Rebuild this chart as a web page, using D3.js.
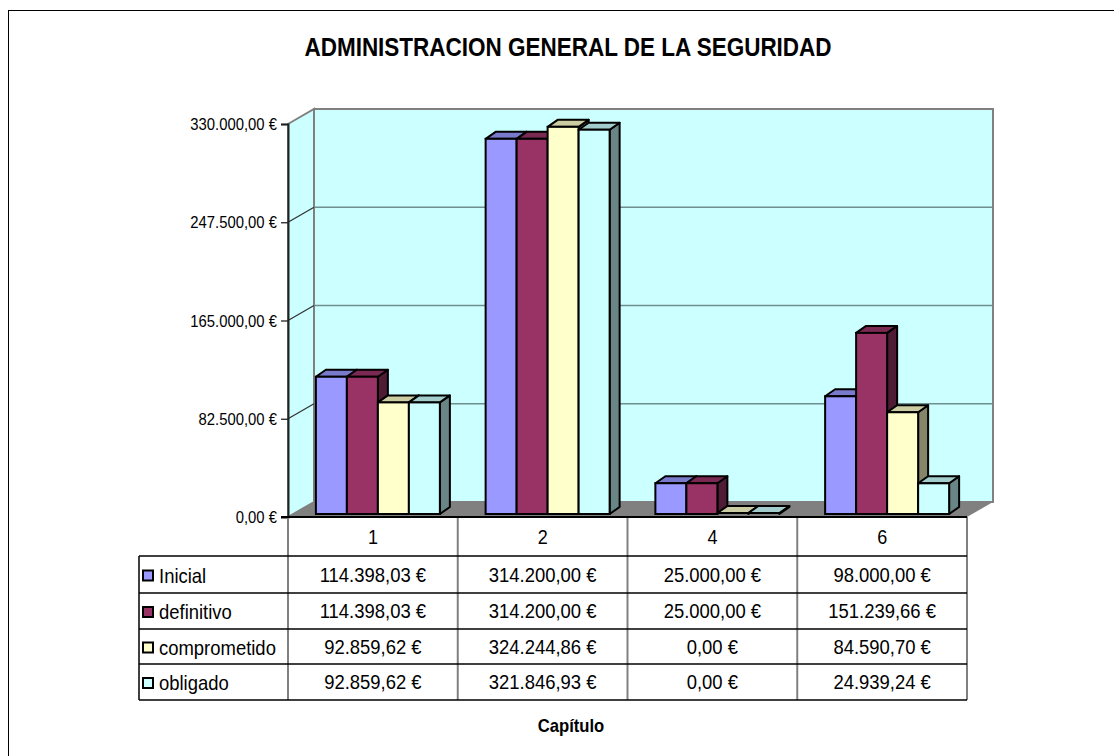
<!DOCTYPE html>
<html>
<head>
<meta charset="utf-8">
<script src="https://cdn.jsdelivr.net/npm/d3@7"></script>
<style>
  body { margin: 0; background: #fff; }
  svg text { font-family: "Liberation Sans", Arial, sans-serif; fill: #000; }
</style>
</head>
<body>
<div id="chart"></div>
<script>
// data
var categories = ["1", "2", "4", "6"]
var seriesNames = ["Inicial", "definitivo", "comprometido", "obligado"]
var inicial = [114398.03, 314200.00, 25000.00, 98000.00]
var definitivo = [114398.03, 314200.00, 25000.00, 151239.66]
var comprometido = [92859.62, 324244.86, 0.00, 84590.70]
var obligado = [92859.62, 321846.93, 0.00, 24939.24]
var yTicks = [0, 82500, 165000, 247500, 330000]
var seriesColors = ["#9999FF", "#993366", "#FFFFCC", "#CCFFFF"]

var values = [inicial, definitivo, comprometido, obligado]

var W = 1114, H = 756
var SX = 0.9   // the original fonts are a bit narrow
var svg = d3.select("#chart").append("svg")
  .attr("width", W).attr("height", H)

// text drawn slightly condensed, like the source
function label(parent, tx, ty, str, size, anchor, bold){
  return parent.append("text")
    .attr("transform", "translate(" + tx + "," + ty + ") scale(" + SX + ",1)")
    .attr("text-anchor", anchor || "start")
    .style("font-size", size + "px")
    .style("font-weight", bold ? "bold" : "normal")
    .text(str)
}

// outer frame (only top and left edges fall inside the picture)
svg.append("rect")
  .attr("x", 8.5).attr("y", 10.5).attr("width", 1300).attr("height", 900)
  .attr("fill", "#fff").attr("stroke", "#000").attr("stroke-width", 1)

var loc = d3.formatLocale({decimal: ",", thousands: ".", grouping: [3], currency: ["", " €"]})
var fmt = function(v){ return loc.format(",.2f")(v) + " €" }

var x0 = 288, x1 = 967
var DX = 26, DY = -15          // depth of the 3d box
var y = d3.scaleLinear().domain([0, 330000]).range([517, 124])
var x = d3.scaleBand().domain(categories).range([x0, x1])
var xs = d3.scaleBand().domain(seriesNames).range([0, 124])

// title
label(svg, 568, 56, "ADMINISTRACION GENERAL DE LA SEGURIDAD", 25, "middle", true)

var yT = y(330000), yB = y(0)

// walls and floor
var wall = svg.append("g")
wall.append("polygon")
  .attr("points", [[x0 + DX, yT + DY], [x1 + DX, yT + DY], [x1 + DX, yB + DY], [x0 + DX, yB + DY]].join(" "))
  .attr("fill", "#CCFFFF").attr("stroke", "#808080").attr("stroke-width", 2)
wall.append("polygon")
  .attr("points", [[x0, yT], [x0 + DX, yT + DY], [x0 + DX, yB + DY], [x0, yB]].join(" "))
  .attr("fill", "#CCFFFF").attr("stroke", "#808080").attr("stroke-width", 2)
wall.append("polygon")
  .attr("points", [[x0, yB], [x1, yB], [x1 + DX, yB + DY], [x0 + DX, yB + DY]].join(" "))
  .attr("fill", "#808080").attr("stroke", "none")

// gridlines
yTicks.forEach(function(t){
  if (t == 0 || t == 330000) return
  wall.append("line")
    .attr("x1", x0 + DX).attr("x2", x1 + DX)
    .attr("y1", y(t) + DY).attr("y2", y(t) + DY)
    .attr("stroke", "#6f8f8f").attr("stroke-width", 1.3)
  wall.append("line")
    .attr("x1", x0).attr("x2", x0 + DX)
    .attr("y1", y(t)).attr("y2", y(t) + DY)
    .attr("stroke", "#333").attr("stroke-width", 1.3)
})

// y axis
var axis = svg.append("g").attr("transform", "translate(" + x0 + ",0)")
  .call(d3.axisLeft(y).tickValues(yTicks).tickSize(7).tickFormat(""))
axis.select(".domain").attr("stroke", "#222").attr("stroke-width", 2)
axis.selectAll(".tick line").attr("stroke", "#222").attr("stroke-width", 1.3)
yTicks.forEach(function(t){
  label(svg, x0 - 11, y(t) + 6, fmt(t), 16.5, "end")
})

// bars
var fx = 5, fy = -4      // bar front offset into the box
var bx = 10, by = -7     // bar depth
var bw = xs.bandwidth()
var pad = (x.bandwidth() - 124) / 2
function shade(c, k){ var h = d3.rgb(c); return d3.rgb(h.r * k, h.g * k, h.b * k) }

categories.forEach(function(cat, ci){
  var g = svg.append("g").attr("class", "cat_" + cat)
  seriesNames.forEach(function(s, si){
    var v = values[si][ci]
    var left = x(cat) + pad + xs(s) + fx
    var right = left + bw
    var top = y(v) + fy
    var bot = y(0) + fy + 1
    var col = seriesColors[si]
    g.append("polygon")
      .attr("points", [[right, bot], [right + bx, bot + by], [right + bx, top + by], [right, top]].join(" "))
      .attr("fill", shade(col, 0.52)).attr("stroke", "#000").attr("stroke-width", 2).attr("stroke-linejoin", "round")
    g.append("polygon")
      .attr("points", [[left, top], [left + bx, top + by], [right + bx, top + by], [right, top]].join(" "))
      .attr("fill", shade(col, 0.8)).attr("stroke", "#000").attr("stroke-width", 2).attr("stroke-linejoin", "round")
    if (v > 0) {
      g.append("rect")
        .attr("x", left).attr("y", top).attr("width", bw).attr("height", bot - top)
        .attr("fill", col).attr("stroke", "#000").attr("stroke-width", 2)
    }
  })
})

// data table
var tLeft = 139
var rowY = [517, 556, 593, 629, 664, 700]
var table = svg.append("g")
var colEdges = categories.map(function(c){ return x(c) }).concat([x1])
colEdges.forEach(function(cx){
  table.append("line").attr("x1", cx).attr("x2", cx).attr("y1", 517).attr("y2", rowY[5])
    .attr("stroke", "#808080").attr("stroke-width", 2)
})
table.append("line").attr("x1", tLeft).attr("x2", tLeft).attr("y1", rowY[1]).attr("y2", rowY[5])
  .attr("stroke", "#000").attr("stroke-width", 1.5)
rowY.forEach(function(ry, i){
  table.append("line").attr("x1", i == 0 ? 281 : tLeft).attr("x2", x1).attr("y1", ry).attr("y2", ry)
    .attr("stroke", "#000").attr("stroke-width", i == 0 ? 2 : 1.3)
})

categories.forEach(function(cat){
  label(table, x(cat) + x.bandwidth() / 2, 544, cat, 20, "middle")
})
seriesNames.forEach(function(s, si){
  var cy = (rowY[si + 1] + rowY[si + 2]) / 2
  table.append("rect")
    .attr("x", 143).attr("y", cy - 4).attr("width", 10).attr("height", 10)
    .attr("fill", seriesColors[si]).attr("stroke", "#000").attr("stroke-width", 2)
  label(table, 159, cy + 8, s, 20.5, "start")
  categories.forEach(function(cat, ci){
    label(table, x(cat) + x.bandwidth() / 2, cy + 7, fmt(values[si][ci]), 20.5, "middle")
  })
})

// x axis title
label(svg, 571, 732, "Capítulo", 18.5, "middle", true)
</script>
</body>
</html>
